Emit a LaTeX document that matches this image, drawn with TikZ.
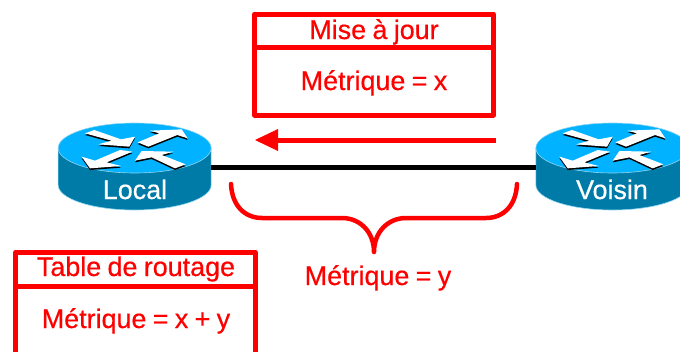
\documentclass[tikz,border=0pt]{standalone}
\usepackage{fontspec}
\setmainfont[FakeBold=0.5,WordSpace=0.85]{Liberation Sans}
\definecolor{rtop}{HTML}{00B2FF}
\definecolor{rside}{HTML}{007BA8}
\definecolor{redge}{HTML}{8FD6F0}
\tikzset{
  rline/.style={draw=red,line width=5bp,line join=round},
  lab/.style={text=red,inner sep=0pt,anchor=base,font=\fontsize{27}{32}\selectfont},
  rlab/.style={text=white,inner sep=0pt,anchor=base,font=\fontsize{27}{32}\selectfont},
  rarrow/.style={fill=white},
  rshade/.style={fill=black},
  routerbox/.style={minimum width=153bp,minimum height=87bp,inner sep=0pt}
}
\newcommand{\routerart}{%
  \fill[rside] (54.5,144) -- (54.5,255) arc[start angle=180,end angle=0,x radius=229.5,y radius=75] -- (513.5,144) -- cycle;
  \draw[redge,line width=.6bp] (54.5,144) -- (54.5,255) arc[start angle=180,end angle=0,x radius=229.5,y radius=75] -- (513.5,144);
  \fill[rtop] (284,144) ellipse[x radius=229.5,y radius=75];
  \draw[redge,line width=.6bp] (284,144) ellipse[x radius=229.5,y radius=75];
  \foreach \off/\sty in {-5/rshade,0/rarrow}{
    \begin{scope}[yshift=\off*0.3333bp]
      \fill[\sty] (135,100) -- (163,90) -- (243,118) -- (285,110) -- (268,140) -- (175,133) -- (215,122) -- cycle;
      \fill[\sty] (293,127) -- (358,100) -- (330,92) -- (425,88) -- (443,115) -- (412,105) -- (325,140) -- cycle;
      \fill[\sty] (277,155) -- (240,150) -- (165,182) -- (125,170) -- (150,205) -- (243,198) -- (200,187) -- cycle;
      \fill[\sty] (285,182) -- (305,153) -- (400,155) -- (365,165) -- (437,193) -- (405,205) -- (335,172) -- cycle;
    \end{scope}
  }
}
\begin{document}
\begin{tikzpicture}[x=1bp,y=-1bp]
\useasboundingbox (0,0) rectangle (680,351);
\clip (0,0) rectangle (680,351);
% routers
\begin{scope}[shift={(40,100)},x=.33333bp,y=-.33333bp]\routerart\end{scope}
\begin{scope}[shift={(517.7,100)},x=.33333bp,y=-.33333bp]\routerart\end{scope}
\node[routerbox] (local) at (134.5,167) {};
\node[routerbox] (voisin) at (612.2,167) {};
\node[rlab] (locallab) at (135,199) {Local};
\node[rlab] (voisinlab) at (612,199) {Voisin};
\draw[black,line width=5bp] (local.east) -- (voisin.west);
% update box
\node[rline,draw,minimum width=239bp,minimum height=101bp,inner sep=0pt] (upd) at (374,64.5) {};
\coordinate (updL) at (254,47); \coordinate (updR) at (494,47);
\draw[rline] (updL) -- (updR);
\node[lab] (updt) at (374,39) {Mise à jour};
\node[lab] (updm) at (374,90) {Métrique = x};
% red arrow
\coordinate (arrS) at (496,140);
\coordinate (arrB) at (277,140);
\coordinate (arrT) at (255,140);
\draw[red,line width=5bp] (arrS) -- (arrB);
\fill[red] (arrT) -- (278,129) -- (278,151) -- cycle;
% brace
\coordinate (brL) at (231,184);
\coordinate (brR) at (517,184);
\coordinate (brT) at (374,252);
\draw[red,line width=4.5bp,line cap=round,line join=round]
  (brL) .. controls (232,206) and (245,218) .. (262,218) -- (342,218)
  .. controls (360,218) and (374,232) .. (brT)
  .. controls (374,232) and (388,218) .. (406,218) -- (486,218)
  .. controls (503,218) and (516,206) .. (brR);
\node[lab] (mety) at (378,285) {Métrique = y};
% table box
\node[rline,draw,minimum width=239bp,minimum height=140bp,inner sep=0pt] (tab) at (135.5,322) {};
\coordinate (tabL) at (16,286); \coordinate (tabR) at (255,286);
\draw[rline] (tabL) -- (tabR);
\node[lab] (tabt) at (136,276) {Table de routage};
\node[lab] (tabm) at (136,328) {Métrique = x + y};
\end{tikzpicture}
\end{document}
